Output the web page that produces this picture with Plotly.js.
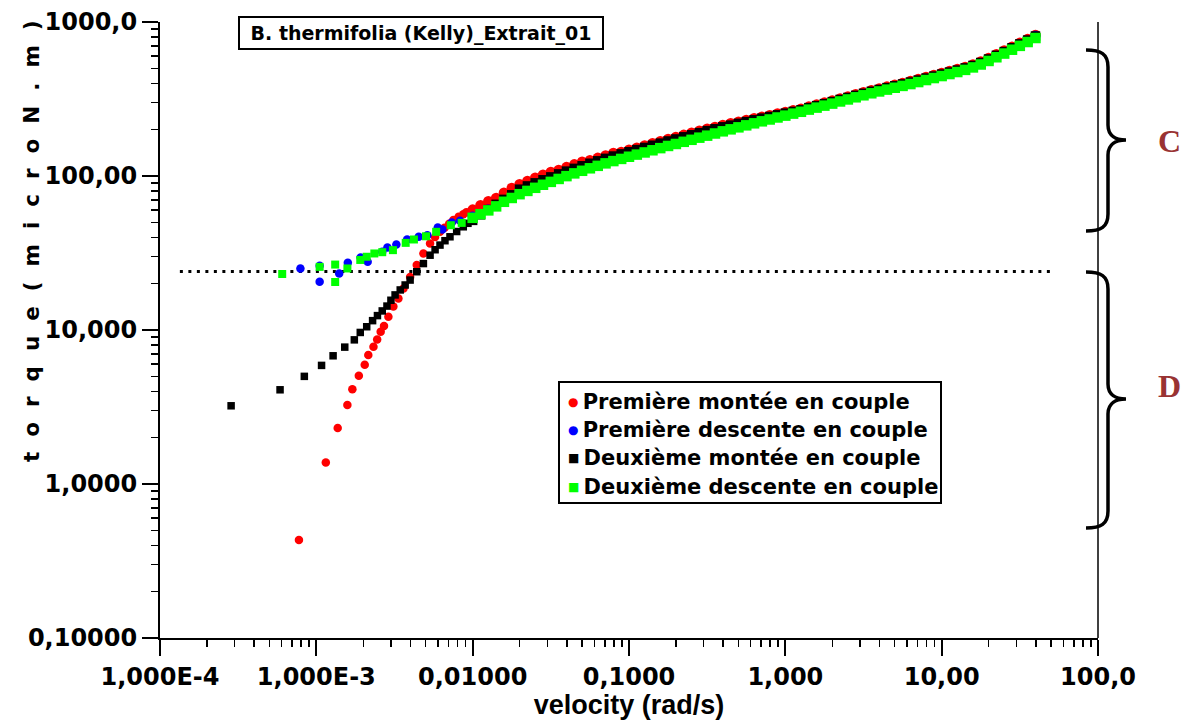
<!DOCTYPE html>
<html>
<head>
<meta charset="utf-8">
<script src="https://cdn.plot.ly/plotly-3.0.1.min.js"></script>
<style>html,body{margin:0;padding:0;background:#fff;}#chart{width:1186px;height:720px;}</style>
</head>
<body>
<div id="chart"></div>
<script>
// ---------- data ----------
const xTickVals = [1e-4, 1e-3, 1e-2, 1e-1, 1, 10, 100];
const xTickText = ["1,000E-4", "1,000E-3", "0,01000", "0,1000", "1,000", "10,00", "100,0"];
const yTickVals = [0.1, 1, 10, 100, 1000];
const yTickText = ["0,10000", "1,0000", "10,000", "100,00", "1000,0"];

const seriesNames = [
  "Première montée en couple",
  "Première descente en couple",
  "Deuxième montée en couple",
  "Deuxième descente en couple"
];
const seriesColors = ["#ff0000", "#0000ff", "#000000", "#00ff00"];

// shared dense velocity grid of the upper branch (rad/s)
const denseVelocity = [0.01, 0.01122, 0.01259, 0.01413, 0.01585, 0.01778, 0.01995, 0.02239, 0.02512, 0.02818,
  0.03162, 0.03548, 0.03981, 0.04467, 0.05012, 0.05623, 0.0631, 0.07079, 0.07943, 0.08913,
  0.1, 0.1122, 0.1259, 0.1413, 0.1585, 0.1778, 0.1995, 0.2239, 0.2512, 0.2818,
  0.3162, 0.3548, 0.3981, 0.4467, 0.5012, 0.5623, 0.631, 0.7079, 0.7943, 0.8913,
  1, 1.122, 1.259, 1.413, 1.585, 1.778, 1.995, 2.239, 2.512, 2.818,
  3.162, 3.548, 3.981, 4.467, 5.012, 5.623, 6.31, 7.079, 7.943, 8.913,
  10, 11.22, 12.59, 14.13, 15.85, 17.78, 19.95, 22.39, 25.12, 28.18,
  31.62, 35.48, 39.81];

// Première montée en couple (red)
const redLowVelocity = [7.74e-4, 1.15e-3, 1.37e-3, 1.58e-3, 1.70e-3, 1.87e-3, 2.04e-3, 2.15e-3, 2.32e-3, 2.45e-3,
  2.58e-3, 2.71e-3, 2.89e-3, 3.11e-3, 3.35e-3, 3.61e-3, 3.98e-3, 4.39e-3, 4.84e-3, 5.34e-3,
  5.75e-3, 6.18e-3, 6.61e-3, 7.08e-3, 7.53e-3, 8.13e-3, 8.71e-3, 9.12e-3];
const redLowTorque = [0.433, 1.38, 2.31, 3.26, 4.12, 5.05, 5.94, 6.87, 7.78, 8.69,
  9.73, 10.6, 12.2, 14.2, 16.0, 18.6, 22.1, 26.4, 31.4, 36.5,
  40.2, 43.4, 46.2, 49.0, 51.7, 54.3, 56.5, 58.2];
const redDenseTorque = [60.5, 64.5, 68.5, 72.1, 77.8, 83.6, 88.5, 92.9, 97.3, 101.8,
  106.3, 109.5, 114.2, 119.0, 123.7, 126.5, 131.2, 136.1, 140.9, 143.3,
  148.1, 152.8, 157.8, 163.1, 168.4, 173.9, 179.2, 185.0, 190.7, 196.9,
  202.9, 208.4, 214.3, 219.8, 225.0, 230.8, 236.9, 242.6, 248.2, 254.8,
  260.2, 266.8, 273.2, 282.2, 290.8, 299.6, 308.7, 318.8, 328.5, 339.2,
  349.6, 360.2, 370.3, 380.6, 391.3, 402.3, 413.6, 426.1, 439.1, 452.4,
  466.1, 480.3, 495.0, 511.2, 530.3, 554.1, 584.2, 617.3, 652.4, 691.1,
  732.0, 775.4, 823.2];

// Première descente en couple (blue)
const blueLowVelocity = [7.91e-4, 1.05e-3, 1.05e-3, 1.40e-3, 1.59e-3, 1.92e-3, 2.13e-3, 2.64e-3, 2.85e-3, 3.25e-3,
  3.81e-3, 4.52e-3, 5.13e-3, 5.98e-3, 6.40e-3, 7.35e-3, 8.30e-3];
const blueLowTorque = [25.1, 26.1, 20.6, 23.3, 27.3, 29.6, 27.7, 32.2, 34.3, 35.9,
  38.7, 40.3, 41.3, 46.3, 45.0, 49.9, 51.2];
const blueDenseVelocity = [0.01, 0.01259, 0.01585, 0.01995, 0.02512, 0.03162, 0.03981, 0.05012, 0.0631, 0.07943,
  0.1, 0.1259, 0.1585, 0.1995, 0.2512, 0.3162, 0.3981, 0.5012, 0.631, 0.7943,
  1, 1.259, 1.585, 1.995, 2.512, 3.162, 3.981, 5.012, 6.31, 7.943,
  10, 12.59, 15.85, 19.95, 25.12, 31.62, 39.81];
const blueDenseTorque = [54.5, 60.5, 69.0, 77.3, 85.0, 93.0, 101.3, 109.7, 118.1, 126.9,
  135.4, 144.3, 154.0, 163.8, 174.4, 185.5, 197.9, 210.1, 223.1, 236.3,
  250.3, 265.1, 282.2, 299.5, 318.8, 339.2, 359.3, 379.7, 401.3, 426.1,
  452.3, 480.3, 514.6, 566.9, 633.1, 710.3, 815.0];

// Deuxième montée en couple (black)
const blackLowVelocity = [2.85e-4, 5.86e-4, 8.38e-4, 1.08e-3, 1.28e-3, 1.52e-3, 1.75e-3, 1.91e-3, 2.10e-3, 2.29e-3,
  2.46e-3, 2.64e-3, 2.83e-3, 3.00e-3, 3.19e-3, 3.44e-3, 3.70e-3, 3.98e-3, 4.39e-3, 4.84e-3,
  5.34e-3, 5.75e-3, 6.18e-3, 6.65e-3, 7.16e-3, 7.90e-3, 8.71e-3, 9.33e-3];
const blackLowTorque = [3.22, 4.09, 5.00, 5.89, 6.80, 7.74, 8.63, 9.64, 10.5, 11.5,
  12.4, 13.3, 14.3, 15.6, 16.9, 18.2, 19.6, 21.1, 23.9, 27.0,
  30.6, 33.2, 35.6, 38.0, 40.3, 43.6, 46.8, 49.3];
const blackDenseTorque = [51.5, 56.0, 60.5, 65.5, 70.5, 75.5, 82.1, 86.2, 90.3, 94.5,
  98.7, 103.2, 107.6, 112.1, 116.5, 121.0, 125.5, 130.2, 134.8, 139.2,
  143.8, 148.4, 153.3, 158.4, 163.5, 168.9, 174.0, 179.7, 185.2, 191.2,
  197.1, 202.6, 208.7, 214.0, 219.8, 225.5, 231.7, 237.6, 243.5, 249.7,
  256.0, 262.5, 269.0, 277.9, 286.3, 295.0, 304.0, 313.9, 323.5, 334.0,
  344.2, 354.7, 364.6, 374.8, 385.3, 396.1, 407.3, 419.6, 432.4, 445.5,
  459.0, 473.0, 487.4, 503.4, 522.2, 545.6, 575.3, 607.9, 642.4, 680.5,
  720.8, 763.5, 810.6];

// Deuxième descente en couple (green)
const greenLowVelocity = [6.05e-4, 1.05e-3, 1.32e-3, 1.32e-3, 1.58e-3, 1.91e-3, 2.10e-3, 2.35e-3, 2.64e-3, 3.09e-3,
  3.73e-3, 4.21e-3, 5.03e-3, 5.84e-3, 7.25e-3, 8.51e-3];
const greenLowTorque = [23.1, 25.7, 26.6, 20.5, 25.1, 28.5, 29.9, 31.4, 32.0, 33.0,
  36.8, 38.7, 40.6, 43.4, 47.9, 49.6];
const greenDenseTorque = [53.5, 56.5, 59.8, 63.5, 68.0, 72.0, 76.2, 80.0, 83.8, 87.7,
  91.6, 95.7, 99.8, 104.0, 108.1, 112.2, 116.4, 120.8, 125.0, 129.1,
  133.4, 137.7, 142.2, 146.9, 151.7, 156.7, 161.4, 166.7, 171.8, 177.4,
  182.8, 188.8, 195.0, 200.9, 207.0, 213.3, 219.8, 226.5, 232.8, 239.9,
  246.6, 254.1, 261.2, 269.8, 278.0, 286.4, 295.1, 304.8, 314.1, 324.3,
  334.2, 344.4, 354.0, 363.9, 374.1, 384.6, 395.4, 407.4, 419.8, 432.5,
  445.6, 459.2, 473.2, 488.7, 507.0, 529.7, 558.5, 590.2, 623.7, 660.7,
  699.8, 741.3, 787.0];

// dotted threshold line
const thresholdVelocity = [1.34e-4, 50];
const thresholdTorque = [24, 24];

const chartTitle = "B. thermifolia (Kelly)_Extrait_01";
const xTitle = "velocity (rad/s)";
const yTitleChars = ["t", "o", "r", "q", "u", "e", "(", "m", "i", "c", "r", "o", "N", ".", "m", ")"];
const regionLabels = ["C", "D"];

// ---------- layout helpers ----------
const W = 1186, H = 720;
const M = {l: 160, r: 88, t: 22, b: 82};
const PW = W - M.l - M.r, PH = H - M.t - M.b;
const px = x => (x - M.l) / PW;
const py = y => (H - M.b - y) / PH;
const P = (x, y) => px(x).toFixed(5) + "," + py(y).toFixed(5);

function bracePath(top, tip, bot) {
  const hook = 1086, stem = 1108, point = 1126;
  return "M" + P(hook, top) +
    " C" + P(1101, top) + " " + P(stem, top + 4) + " " + P(stem, top + 17) +
    " L" + P(stem, tip - 15) +
    " C" + P(stem, tip - 4) + " " + P(1116, tip) + " " + P(point, tip) +
    " C" + P(1116, tip) + " " + P(stem, tip + 4) + " " + P(stem, tip + 15) +
    " L" + P(stem, bot - 17) +
    " C" + P(stem, bot - 4) + " " + P(1101, bot) + " " + P(hook, bot);
}

// marker sizes: isolated low-velocity points vs. the dense, overlapping upper branch
function sizes(nLow, lowSize, nDense, denseSize) {
  return new Array(nLow).fill(lowSize).concat(new Array(nDense).fill(denseSize));
}

const minorVals = [];
for (let e = -4; e < 2; e++) for (let d = 2; d <= 9; d++) minorVals.push(d * Math.pow(10, e));
const minorValsY = [];
for (let e = -1; e < 3; e++) for (let d = 2; d <= 9; d++) minorValsY.push(d * Math.pow(10, e));

const FONT = "DejaVu Sans, Verdana, sans-serif";

function markerStyle(symbol, color, size) {
  return {symbol: symbol, color: color, size: size, opacity: 1, line: {width: 0}};
}

// ---------- traces ----------
const traces = [
  {x: thresholdVelocity, y: thresholdTorque, mode: "lines", showlegend: false, hoverinfo: "skip",
   line: {color: "#000", width: 3, dash: "3px,5.5px"}},
  {name: seriesNames[0], x: redLowVelocity.concat(denseVelocity), y: redLowTorque.concat(redDenseTorque),
   mode: "markers", marker: markerStyle("circle", seriesColors[0], sizes(redLowVelocity.length, 8.5, denseVelocity.length, 10.5))},
  {name: seriesNames[1], x: blueLowVelocity.concat(blueDenseVelocity), y: blueLowTorque.concat(blueDenseTorque),
   mode: "markers", marker: markerStyle("circle", seriesColors[1], sizes(blueLowVelocity.length, 8.5, blueDenseVelocity.length, 10))},
  {name: seriesNames[2], x: blackLowVelocity.concat(denseVelocity), y: blackLowTorque.concat(blackDenseTorque),
   mode: "markers", marker: markerStyle("square", seriesColors[2], sizes(blackLowVelocity.length, 7.5, denseVelocity.length, 9.5))},
  {name: seriesNames[3], x: greenLowVelocity.concat(denseVelocity), y: greenLowTorque.concat(greenDenseTorque),
   mode: "markers", marker: markerStyle("square", seriesColors[3], sizes(greenLowVelocity.length, 8, denseVelocity.length, 10.5))}
];

// ---------- legend built from annotations ----------
const legendGlyphs = ["●", "●", "■", "■"];
const legendRowsY = [402, 430, 458, 487];
const annotations = [];
for (let i = 0; i < 4; i++) {
  annotations.push({
    xref: "paper", yref: "paper", x: px(566), y: py(legendRowsY[i]),
    xanchor: "left", yanchor: "middle", showarrow: false, align: "left",
    text: "<span style=\"color:" + seriesColors[i] + ";font-size:12px;baseline-shift:3px\">" + legendGlyphs[i] + "\u00a0</span>" + seriesNames[i],
    font: {family: FONT, size: 21, color: "#000", weight: "bold"}
  });
}
annotations.push({
  xref: "paper", yref: "paper", x: px(421), y: py(33), xanchor: "center", yanchor: "middle",
  showarrow: false, text: chartTitle, width: 356, height: 24, borderpad: 3,
  bordercolor: "#000", borderwidth: 2, bgcolor: "#fff",
  font: {family: FONT, size: 19, color: "#000", weight: "bold"}
});
annotations.push({
  xref: "paper", yref: "paper", x: px(31), y: py(241), xanchor: "center", yanchor: "middle",
  showarrow: false, textangle: -90, text: yTitleChars.join("\u00a0\u00a0"),
  font: {family: FONT, size: 21.5, color: "#000", weight: "bold"}
});
annotations.push({
  xref: "paper", yref: "paper", x: px(1169), y: py(141), xanchor: "center", yanchor: "middle",
  showarrow: false, text: regionLabels[0],
  font: {family: "Liberation Serif, DejaVu Serif, serif", size: 32, color: "#993333", weight: "bold"}
});
annotations.push({
  xref: "paper", yref: "paper", x: px(1169), y: py(386), xanchor: "center", yanchor: "middle",
  showarrow: false, text: regionLabels[1],
  font: {family: "Liberation Serif, DejaVu Serif, serif", size: 32, color: "#993333", weight: "bold"}
});

const shapes = [
  {type: "rect", xref: "paper", yref: "paper", x0: px(559), x1: px(941), y0: py(382), y1: py(503),
   line: {color: "#000", width: 2}, fillcolor: "rgba(0,0,0,0)"},
  {type: "line", xref: "paper", yref: "paper", x0: 1, x1: 1, y0: 0, y1: 1, line: {color: "#000", width: 1.5}},
  {type: "path", xref: "paper", yref: "paper", path: bracePath(50, 140, 231), line: {color: "#000", width: 3.5}},
  {type: "path", xref: "paper", yref: "paper", path: bracePath(272, 399, 528), line: {color: "#000", width: 3.5}}
];

const axisCommon = {
  type: "log", showgrid: false, zeroline: false, showline: true, linecolor: "#000", linewidth: 2,
  ticks: "outside", ticklen: 16, tickwidth: 2, tickcolor: "#000",
  tickfont: {family: FONT, size: 24, color: "#000", weight: "bold"}
};

const layout = {
  width: W, height: H, margin: M,
  paper_bgcolor: "#fff", plot_bgcolor: "#fff",
  showlegend: false, hovermode: false,
  xaxis: Object.assign({}, axisCommon, {
    range: [-4, 2], tickmode: "array", tickvals: xTickVals, ticktext: xTickText,
    minor: {tickmode: "array", tickvals: minorVals, ticks: "outside", ticklen: 7, tickwidth: 1.5, tickcolor: "#000", showgrid: false},
    title: {text: xTitle, standoff: 8, font: {family: "Liberation Sans, Arial, sans-serif", size: 27, color: "#000", weight: "bold"}}
  }),
  yaxis: Object.assign({}, axisCommon, {
    range: [-1, 3], tickmode: "array", tickvals: yTickVals, ticktext: yTickText,
    minor: {tickmode: "array", tickvals: minorValsY, ticks: "outside", ticklen: 7, tickwidth: 1.5, tickcolor: "#000", showgrid: false}
  }),
  annotations: annotations,
  shapes: shapes
};

Plotly.newPlot("chart", traces, layout, {displayModeBar: false, staticPlot: true});
</script>
</body>
</html>
